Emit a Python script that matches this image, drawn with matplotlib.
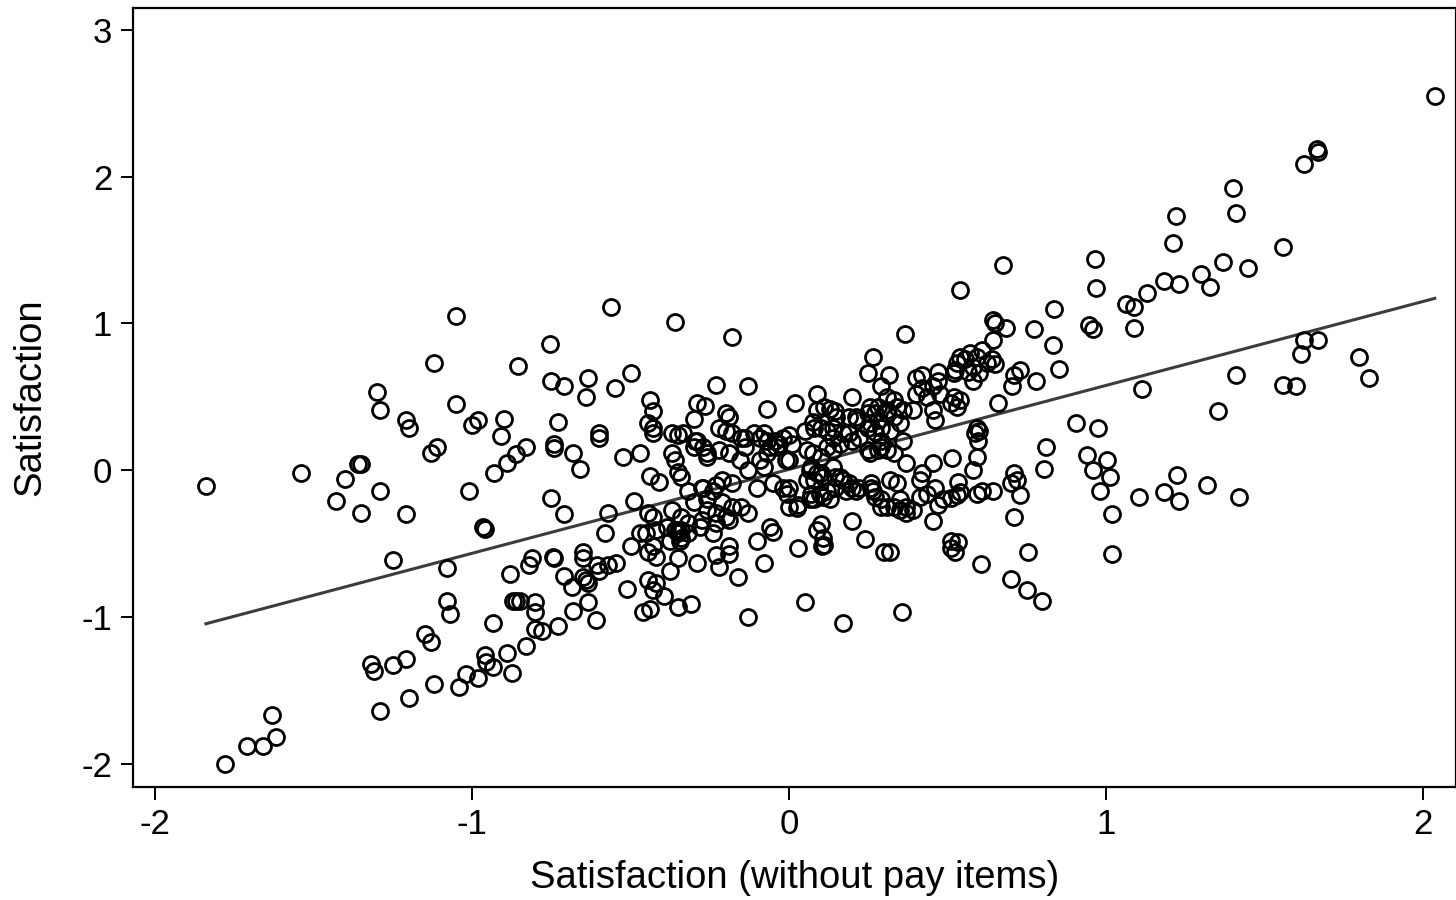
import numpy as np
import matplotlib
matplotlib.use("Agg")
import matplotlib.pyplot as plt

# points (x = satisfaction without pay items, y = satisfaction)
x_left = [-1.84, -1.78, -1.71, -1.66, -1.62, -1.63, -1.54, -1.43, -1.40, -1.36, -1.35, -1.35,
          -1.30, -1.29, -1.29, -1.25, -1.32, -1.31, -1.25, -1.21, -1.29, -1.20, -1.21, -1.20,
          -1.21, -1.12, -1.13, -1.11, -1.15, -1.13, -1.12, -1.08, -1.08, -1.07, -1.05, -1.05,
          -1.01, -1.04, -1.02, -0.98]
y_left = [-0.11, -2.00, -1.88, -1.88, -1.82, -1.67, -0.02, -0.21, -0.06, 0.04, 0.04, -0.29,
          0.53, 0.41, -0.14, -0.61, -1.32, -1.37, -1.33, -1.29, -1.64, -1.55, 0.34, 0.29,
          -0.30, 0.73, 0.12, 0.16, -1.12, -1.17, -1.46, -0.67, -0.89, -0.98, 1.05, 0.45,
          -0.14, -1.48, -1.39, -1.42]

x_midleft = [-0.56, -0.36, -0.755, -0.856, -0.75, -0.71, -0.635, -0.64, -0.50, -0.55, -0.44, -0.43,
             -0.98, -1.00, -0.90, -0.91, -0.73, -0.74, -0.74, -0.68, -0.66, -0.60, -0.60, -0.83,
             -0.86, -0.89, -0.93, -0.525, -0.47, -0.445, -0.43, -0.43, -0.44, -0.41, -0.37, -0.35,
             -0.37, -0.36, -0.35,
             -0.75, -0.71, -0.96, -0.965, -0.57, -0.58, -0.49, -0.50, -0.445, -0.43, -0.47, -0.45,
             -0.42, -0.43, -0.445, -0.42, -0.37, -0.36, -0.34, -0.35, -0.35, -0.375, -0.445, -0.42,
             -0.43, -0.395, -0.35, -0.46, -0.44, -0.51, -0.81, -0.82, -0.745, -0.74, -0.88, -0.65,
             -0.65, -0.71, -0.685, -0.65, -0.64, -0.635, -0.605, -0.60, -0.57, -0.545, -0.68, -0.635,
             -0.61, -0.87, -0.86, -0.85, -0.80, -0.80, -0.80, -0.78, -0.73, -0.935, -0.83, -0.89,
             -0.96, -0.955, -0.935, -0.875]
y_midleft = [1.11, 1.01, 0.86, 0.71, 0.61, 0.57, 0.63, 0.50, 0.66, 0.56, 0.48, 0.40,
             0.34, 0.31, 0.35, 0.23, 0.33, 0.18, 0.15, 0.12, 0.01, 0.25, 0.22, 0.16,
             0.11, 0.05, -0.02, 0.09, 0.12, 0.32, 0.29, 0.25, -0.04, -0.08, 0.25, 0.24,
             0.12, 0.07, -0.01,
             -0.19, -0.30, -0.40, -0.39, -0.29, -0.43, -0.21, -0.52, -0.29, -0.32, -0.43, -0.43,
             -0.41, -0.52, -0.56, -0.59, -0.27, -0.41, -0.41, -0.43, -0.60, -0.69, -0.75, -0.77,
             -0.82, -0.86, -0.93, -0.97, -0.95, -0.81, -0.60, -0.65, -0.59, -0.60, -0.71, -0.56,
             -0.60, -0.72, -0.80, -0.73, -0.75, -0.77, -0.65, -0.69, -0.65, -0.63, -0.96, -0.90,
             -1.02, -0.89, -0.89, -0.89, -0.90, -0.97, -1.08, -1.10, -1.06, -1.04, -1.20, -1.25,
             -1.26, -1.31, -1.34, -1.38]

x_core = [-0.335, -0.30, -0.22, -0.20, -0.18, -0.20, -0.29, -0.27, -0.34, -0.32, -0.27, -0.24,
          -0.21, -0.18, -0.26, -0.22, -0.19, -0.30, -0.385, -0.35, -0.32, -0.28, -0.26, -0.23,
          -0.20, -0.18, -0.375, -0.345, -0.24, -0.19,
          -0.18, -0.23, -0.13, -0.07, 0.02, 0.09, 0.20, 0.265, 0.25, 0.29, -0.29, -0.265,
          -0.19, -0.15, -0.295, -0.30, -0.26, -0.14, -0.11, -0.08, -0.07, -0.07, -0.02, 0.00,
          0.01, -0.04, -0.01, 0.05, 0.08, 0.09, 0.11, 0.13, 0.145, 0.14, 0.19, 0.21,
          0.17, 0.20, 0.255, 0.27, 0.28, 0.25, 0.27, 0.255, 0.28, 0.26, 0.07, 0.08,
          0.10, 0.145, 0.17, 0.19,
          0.316, 0.40, 0.076, 0.10, 0.12, 0.14, 0.16, 0.057, 0.076, 0.10, 0.12, 0.14,
          0.066, 0.088, 0.107, 0.14, 0.18, 0.107, 0.13, -0.006, -0.02, -0.06, -0.03, -0.09,
          -0.155, -0.14, -0.09, -0.045, -0.13, -0.08, 0.00, -0.10, -0.05, 0.00, 0.057, -0.13,
          0.00, 0.025, 0.066, 0.098, 0.16, 0.20, 0.22, 0.265, 0.29, 0.31, 0.35, 0.37,
          0.39, 0.20, 0.10, -0.06, 0.37, 0.32, 0.34, 0.28, 0.31, 0.33, 0.35, 0.29,
          0.32, 0.25, 0.255, 0.215, 0.19, 0.22, 0.25, 0.29, 0.31, 0.15,
          -0.23, -0.275, 0.03, 0.07, 0.08, 0.12, 0.145, 0.21, 0.26, 0.27, 0.29, -0.26,
          -0.21, -0.15, -0.34, -0.32, -0.275, -0.23, -0.19, -0.34, -0.10, -0.05, 0.03, 0.09,
          0.107, 0.11, 0.104, 0.24, 0.30, -0.29, -0.23, -0.22, -0.19, -0.16, -0.08, -0.31,
          -0.13, 0.05, 0.17]
y_core = [0.25, 0.35, 0.29, 0.27, 0.25, 0.39, 0.20, 0.16, -0.05, -0.14, -0.12, -0.14,
          -0.07, -0.09, 0.09, 0.14, 0.12, -0.22, -0.39, -0.41, -0.43, -0.39, -0.27, -0.29,
          -0.32, -0.25, -0.48, -0.48, -0.43, -0.52,
          0.91, 0.58, 0.57, 0.42, 0.46, 0.52, 0.50, 0.77, 0.66, 0.57, 0.46, 0.44,
          0.36, 0.22, 0.20, 0.16, 0.12, 0.16, 0.25, 0.25, 0.20, 0.12, 0.22, 0.24,
          0.18, 0.16, 0.07, 0.27, 0.29, 0.41, 0.43, 0.42, 0.40, 0.29, 0.36, 0.36,
          0.25, 0.20, 0.43, 0.39, 0.34, 0.29, 0.26, 0.12, 0.14, -0.09, 0.02, -0.07,
          -0.02, -0.05, -0.07, -0.09,
          0.65, 0.63, 0.33, 0.29, 0.27, 0.22, 0.18, 0.14, 0.12, 0.09, 0.16, 0.14,
          0.00, -0.02, -0.05, 0.02, -0.14, -0.18, -0.20, -0.16, -0.12, 0.16, 0.18, 0.07,
          0.07, 0.22, 0.22, 0.20, 0.00, 0.02, 0.07, -0.12, -0.09, -0.12, -0.07, -0.29,
          -0.25, -0.26, -0.20, -0.16, -0.05, -0.12, -0.12, -0.14, -0.20, -0.25, -0.20, -0.25,
          -0.27, -0.35, -0.37, -0.39, 0.05, -0.07, -0.09, 0.43, 0.41, 0.36, 0.32, 0.29,
          0.27, 0.39, 0.32, 0.34, 0.25, 0.22, 0.14, 0.16, 0.14, 0.36,
          -0.10, -0.12, -0.24, -0.16, -0.20, -0.14, -0.12, -0.14, -0.12, -0.18, -0.25, -0.20,
          -0.22, -0.25, -0.32, -0.36, -0.34, -0.36, -0.34, -0.46, -0.48, -0.42, -0.53, -0.41,
          -0.46, -0.51, -0.52, -0.47, -0.56, -0.63, -0.58, -0.66, -0.57, -0.73, -0.63, -0.91,
          -1.00, -0.90, -1.04]

x_midright = [0.676, 0.967, 0.97, 0.54, 0.837, 0.948, 0.96, 0.645, 0.65, 0.685, 0.774, 0.834,
              0.853, 0.367, 0.645, 0.61, 0.594, 0.57, 0.556, 0.54, 0.53, 0.64, 0.65, 0.626,
              0.58, 0.60, 0.566, 0.58, 0.525, 0.52, 0.73, 0.71, 0.705, 0.78, 0.66, 0.42,
              0.47, 0.47, 0.455, 0.42, 0.40, 0.436, 0.477, 0.52, 0.54, 0.53, 0.51, 0.39,
              0.455, 0.46, 0.31, 0.33, 0.34, 0.36, 0.31, 0.36, 0.29, 0.33, 0.594, 0.60,
              0.588, 0.597, 0.594, 0.58, 0.515, 0.455, 0.42, 0.414, 0.534, 0.71, 0.72, 0.81,
              0.806, 0.907, 0.976, 0.94, 0.96, 1.005,
              0.33, 0.35, 0.37, 0.414, 0.436, 0.46, 0.47, 0.487, 0.51, 0.53, 0.54, 0.594,
              0.61, 0.645, 0.70, 0.73, 0.71, 0.455, 0.51, 0.534, 0.51, 0.525, 0.32, 0.607,
              0.755, 0.70, 0.75, 0.80, 0.357, 0.98]
y_midright = [1.40, 1.44, 1.24, 1.23, 1.10, 0.99, 0.96, 1.02, 1.00, 0.97, 0.96, 0.85,
              0.69, 0.93, 0.89, 0.82, 0.77, 0.80, 0.76, 0.77, 0.73, 0.76, 0.72, 0.73,
              0.70, 0.66, 0.67, 0.61, 0.68, 0.66, 0.68, 0.65, 0.57, 0.61, 0.46, 0.65,
              0.67, 0.61, 0.57, 0.56, 0.52, 0.50, 0.52, 0.50, 0.48, 0.43, 0.46, 0.41,
              0.41, 0.34, 0.50, 0.48, 0.43, 0.41, 0.39, 0.20, 0.20, 0.12, 0.29, 0.27,
              0.25, 0.20, 0.09, 0.00, 0.08, 0.05, -0.02, -0.07, -0.08, -0.02, -0.07, 0.16,
              0.01, 0.32, 0.29, 0.10, 0.00, 0.07,
              -0.25, -0.27, -0.29, -0.18, -0.16, -0.12, -0.24, -0.20, -0.19, -0.17, -0.15, -0.16,
              -0.14, -0.14, -0.09, -0.17, -0.32, -0.35, -0.48, -0.49, -0.53, -0.56, -0.56, -0.64,
              -0.56, -0.74, -0.82, -0.89, -0.97, -0.14]

x_right = [2.038, 1.665, 1.668, 1.624, 1.40, 1.41, 1.558, 1.22, 1.213, 1.37, 1.45, 1.30,
           1.33, 1.185, 1.23, 1.13, 1.065, 1.09, 1.09, 1.625, 1.67, 1.615, 1.80, 1.83,
           1.41, 1.115, 1.558, 1.60, 1.355, 1.014, 1.02, 1.02, 1.105, 1.185, 1.23, 1.225,
           1.32, 1.42]
y_right = [2.55, 2.19, 2.17, 2.09, 1.92, 1.75, 1.52, 1.73, 1.55, 1.42, 1.38, 1.34,
           1.25, 1.29, 1.27, 1.21, 1.13, 1.11, 0.97, 0.89, 0.89, 0.79, 0.77, 0.63,
           0.65, 0.55, 0.58, 0.57, 0.40, -0.05, -0.30, -0.57, -0.18, -0.15, -0.21, -0.03,
           -0.10, -0.18]

# linear fit shown in the chart
fit_intercept = 0.005
fit_slope = 0.572

x = np.array(x_left + x_midleft + x_core + x_midright + x_right)
y = np.array(y_left + y_midleft + y_core + y_midright + y_right)

plt.rcParams['font.family'] = ['Liberation Sans', 'DejaVu Sans']
plt.rcParams['axes.unicode_minus'] = False

fig = plt.figure(figsize=(14.56, 9.0), dpi=100)
ax = fig.add_axes([133 / 1456, 113 / 900, 1323 / 1456, 779 / 900])

ax.plot(x, y, 'o', markerfacecolor='none', markeredgecolor='black',
        markersize=11.5, markeredgewidth=2.0, zorder=3)

xs = np.array([x.min(), x.max()])
ax.plot(xs, fit_intercept + fit_slope * xs, '-', color='#3c3c3c', linewidth=2.2, zorder=2)

ax.set_xlim(-2.07, 2.105)
ax.set_ylim(-2.16, 3.15)
ax.set_xticks([-2, -1, 0, 1, 2])
ax.set_yticks([-2, -1, 0, 1, 2, 3])
ax.tick_params(direction='out', length=9, width=1.4, labelsize=25, pad=6)
for s in ax.spines.values():
    s.set_linewidth(1.6)
ax.set_xlabel("Satisfaction (without pay items)", fontsize=27.5, labelpad=14)
ax.set_ylabel("Satisfaction", fontsize=27.5, labelpad=24)

fig.savefig("out.png", dpi=100)
